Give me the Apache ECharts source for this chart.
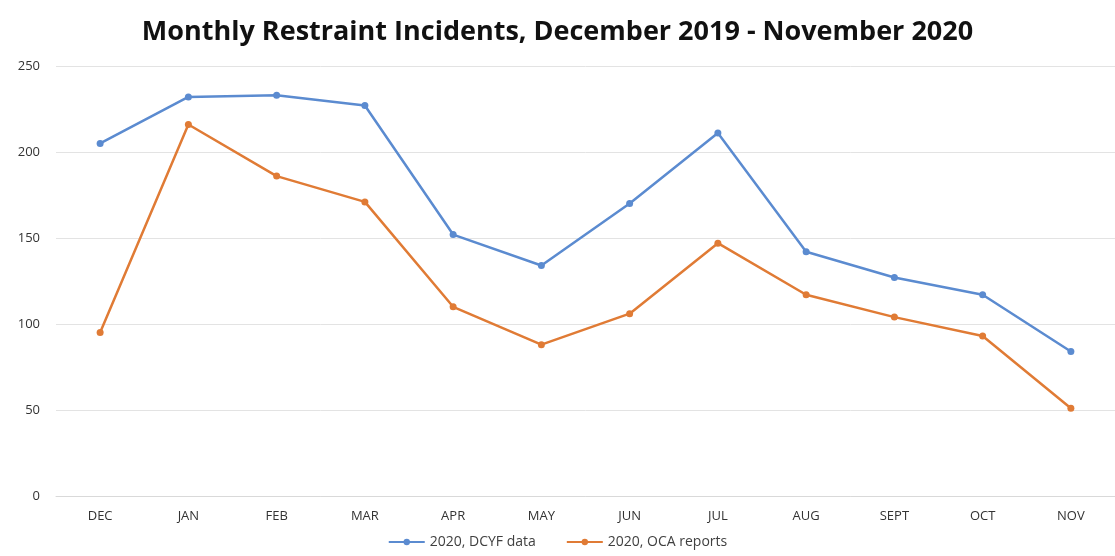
<!DOCTYPE html>
<html><head><meta charset="utf-8">
<script src="https://cdn.jsdelivr.net/npm/echarts@6/dist/echarts.min.js"></script>
<style>html,body{margin:0;padding:0;background:#fff}#c{width:1115px;height:556px}</style>
</head><body><div id="c"></div>
<script>
const categories = ['DEC','JAN','FEB','MAR','APR','MAY','JUN','JUL','AUG','SEPT','OCT','NOV'];
const dcyfData = [205, 232, 233, 227, 152, 134, 170, 211, 142, 127, 117, 84];
const ocaData = [95, 216, 186, 171, 110, 88, 106, 147, 117, 104, 93, 51];
const seriesNames = ['2020, DCYF data', '2020, OCA reports'];
const titleText = 'Monthly Restraint Incidents, December 2019 - November 2020';

const chart = echarts.init(document.getElementById('c'));
chart.setOption({
  animation: false,
  title: { text: titleText, left: 'center', top: 14,
    textStyle: { fontFamily: 'Open Sans', fontWeight: 'bold', fontSize: 27, color: '#111' } },
  legend: { bottom: 2, left: 'center', itemWidth: 36, itemHeight: 8, itemGap: 30,
    textStyle: { fontFamily: 'Open Sans', fontSize: 14, color: '#404040' },
    data: seriesNames },
  grid: { left: 56, right: 0, top: 66, bottom: 60 },
  xAxis: { type: 'category', data: categories, boundaryGap: true,
    axisLine: { lineStyle: { color: '#d9d9d9' } }, axisTick: { show: false },
    axisLabel: { fontFamily: 'Open Sans', fontSize: 13, color: '#333', margin: 14 } },
  yAxis: { type: 'value', min: 0, max: 250, interval: 50,
    axisLine: { show: false }, axisTick: { show: false },
    splitLine: { lineStyle: { color: '#e3e3e3' } },
    axisLabel: { fontFamily: 'Open Sans', fontSize: 13, color: '#333', margin: 16 } },
  series: [
    { name: seriesNames[0], type: 'line', data: dcyfData, symbol: 'circle', symbolSize: 7,
      color: '#5b8bd0', lineStyle: { width: 2.5 } },
    { name: seriesNames[1], type: 'line', data: ocaData, symbol: 'circle', symbolSize: 7,
      color: '#e07b35', lineStyle: { width: 2.5 } }
  ]
});
</script></body></html>
